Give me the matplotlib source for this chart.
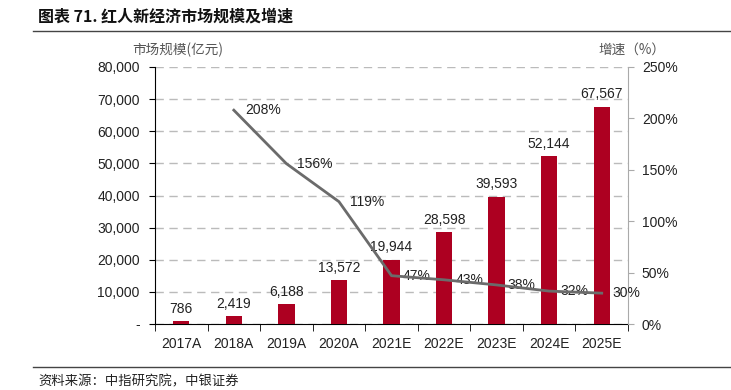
import matplotlib
matplotlib.use("Agg")
import matplotlib.pyplot as plt
from matplotlib.lines import Line2D
from matplotlib.ticker import FuncFormatter, MultipleLocator, FixedLocator
import numpy as np

categories = ["2017A", "2018A", "2019A", "2020A", "2021E", "2022E", "2023E", "2024E", "2025E"]
market_size = [786, 2419, 6188, 13572, 19944, 28598, 39593, 52144, 67567]
growth_years = ["2018A", "2019A", "2020A", "2021E", "2022E", "2023E", "2024E", "2025E"]
growth_pct = [208, 156, 119, 47, 43, 38, 32, 30]

num_font = ["Liberation Sans Narrow", "Liberation Sans", "DejaVu Sans"]
cjk_font = ["Noto Sans CJK SC", "DejaVu Sans"]
fs = 10

fig = plt.figure(figsize=(7.31, 3.90), dpi=100)
ax = fig.add_axes([155/731, 1-324/390, (628-155)/731, (324-67)/390])
x = np.arange(len(categories))
bar_color = "#AD0021"
ax.bar(x, market_size, width=0.31, color=bar_color, zorder=3)
ax.set_xlim(-0.5, len(categories)-0.5)
ax.set_ylim(0, 80000)
ax.yaxis.set_major_locator(MultipleLocator(10000))
ax.yaxis.set_major_formatter(FuncFormatter(lambda v, p: "-" if v == 0 else f"{int(v):,}"))
ax.grid(axis="y", color="#BBBBBB", linestyle=(0, (6, 4)), linewidth=1.0, zorder=0)
ax.set_xticks(x)
ax.set_xticklabels(categories)
ax.xaxis.set_minor_locator(FixedLocator(np.arange(-0.5, len(categories), 1.0)))
ax.tick_params(axis="x", which="major", length=0, pad=9)
ax.tick_params(axis="x", which="minor", length=5, direction="out", color="black")
ax.tick_params(axis="y", length=4, direction="out", pad=7)
for lab in ax.get_xticklabels() + ax.get_yticklabels():
    lab.set_family(num_font)
    lab.set_fontsize(fs)
    lab.set_color("#222222")
ax.spines["top"].set_visible(False)
ax.spines["right"].set_visible(False)
ax.spines["left"].set_color("black")
ax.spines["bottom"].set_color("black")

for xi, v in zip(x, market_size):
    ax.annotate(f"{v:,}", (xi, v), xytext=(0, 4), textcoords="offset points",
                ha="center", va="bottom", fontsize=fs, family=num_font, color="#222222")

ax2 = ax.twinx()
ax2.set_ylim(0, 250)
ax2.yaxis.set_major_locator(MultipleLocator(50))
ax2.yaxis.set_major_formatter(FuncFormatter(lambda v, p: f"{int(v)}%"))
gx = [categories.index(c) for c in growth_years]
ax2.plot(gx, growth_pct, color="#6B6B6B", linewidth=2, zorder=4)
for xi, g in zip(gx, growth_pct):
    ax2.annotate(f"{g}%", (xi, g), xytext=(8, 0), textcoords="offset points",
                 ha="left", va="center", fontsize=fs, family=num_font, color="#222222")
for s in ["top", "left", "bottom"]:
    ax2.spines[s].set_visible(False)
ax2.spines["right"].set_color("#AAAAAA")
ax2.tick_params(axis="y", length=4, direction="out", color="#AAAAAA", pad=6)
for lab in ax2.get_yticklabels():
    lab.set_family(num_font)
    lab.set_fontsize(fs)
    lab.set_color("#222222")

fig.text(132/731, 1-50/390, "市场规模(亿元)", family=cjk_font, fontsize=9.8, color="#555555",
         ha="left", va="center")
fig.text(598/731, 1-50/390, "增速（%）", family=cjk_font, fontsize=9.8, color="#555555",
         ha="left", va="center")

fig.text(38/731, 1-17/390, "图表 71. 红人新经济市场规模及增速", family=cjk_font, fontsize=11.5,
         fontweight="bold", ha="left", va="center", color="#111111")
fig.add_artist(Line2D([33/731, 1.0], [1-31/390, 1-31/390], color="#444444", linewidth=1))
fig.add_artist(Line2D([33/731, 1.0], [1-367/390, 1-367/390], color="#444444", linewidth=1))
fig.text(38/731, 1-381/390, "资料来源：中指研究院，中银证券", family=cjk_font, fontsize=9.6,
         ha="left", va="center", color="#222222")

fig.savefig("out.png", dpi=100)
